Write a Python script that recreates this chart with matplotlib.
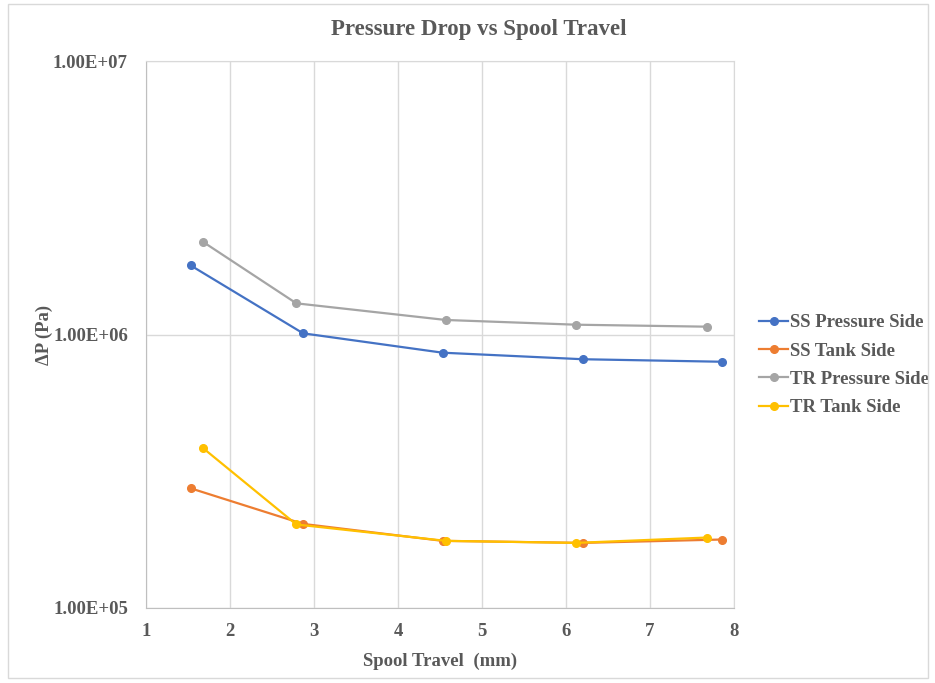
import matplotlib.pyplot as plt
from matplotlib.patches import Rectangle
from matplotlib.ticker import FixedLocator, FuncFormatter

# values
ss_x = [1.53, 2.87, 4.53, 6.20, 7.86]
tr_x = [1.68, 2.79, 4.57, 6.12, 7.68]
ss_pressure = [1.79e6, 1.01e6, 8.58e5, 8.12e5, 7.95e5]
ss_tank = [2.74e5, 2.03e5, 1.76e5, 1.73e5, 1.78e5]
tr_pressure = [2.18e6, 1.30e6, 1.13e6, 1.086e6, 1.068e6]
tr_tank = [3.84e5, 2.02e5, 1.76e5, 1.73e5, 1.81e5]

series = [
    ("SS Pressure Side", ss_x, ss_pressure, "#4472C4"),
    ("SS Tank Side", ss_x, ss_tank, "#ED7D31"),
    ("TR Pressure Side", tr_x, tr_pressure, "#A5A5A5"),
    ("TR Tank Side", tr_x, tr_tank, "#FFC000"),
]

txt = "#595959"
plt.rcParams['font.family'] = ['Liberation Serif', 'DejaVu Serif']
plt.rcParams['font.weight'] = 'bold'
plt.rcParams['axes.labelweight'] = 'bold'

fig = plt.figure(figsize=(9.35, 6.83), dpi=100)
fig.patches.append(Rectangle((8 / 935, 5 / 683), 920 / 935, 674 / 683,
                             transform=fig.transFigure, fill=False,
                             edgecolor="#d9d9d9", linewidth=1))
ax = fig.add_axes([146 / 935, 75 / 683, 588 / 935, 547 / 683])

for name, xs, ys, col in series:
    ax.plot(xs, ys, color=col, lw=1.6, marker="o", ms=5.5, label=name)

ax.set_yscale("log")
ax.set_xlim(1, 8)
ax.set_ylim(1e5, 1e7)
ax.yaxis.set_major_locator(FixedLocator([1e5, 1e6, 1e7]))
ax.yaxis.set_minor_locator(FixedLocator([]))
ax.yaxis.set_major_formatter(FuncFormatter(lambda v, p: f"{v:.2E}"))
ax.set_xticks(range(1, 9))

ax.grid(True, color="#d9d9d9", lw=1)
ax.set_axisbelow(True)
for s in ax.spines.values():
    s.set_color("#d9d9d9")
ax.spines["left"].set_color("#bfbfbf")
ax.spines["bottom"].set_color("#bfbfbf")
ax.tick_params(length=0, labelsize=13.5, labelcolor=txt, pad=11)
ax.tick_params(axis="y", pad=13)

fig.text(478.5 / 935, 1 - 30 / 683, "Pressure Drop vs Spool Travel",
         fontsize=16.5, color=txt, fontweight="bold", ha="center", va="center")
ax.set_xlabel("Spool Travel  (mm)", fontsize=13.5, color=txt, labelpad=9)
ax.set_ylabel("ΔP (Pa)", fontsize=13.5, color=txt, labelpad=0)

leg = ax.legend(loc="center left", bbox_to_anchor=(1.0425, 0.444), frameon=False,
                fontsize=13.5, handlelength=1.55, handletextpad=0.1,
                labelspacing=0.6, borderpad=0, borderaxespad=0)
for t in leg.get_texts():
    t.set_color(txt)

fig.savefig("out.png", dpi=100)
